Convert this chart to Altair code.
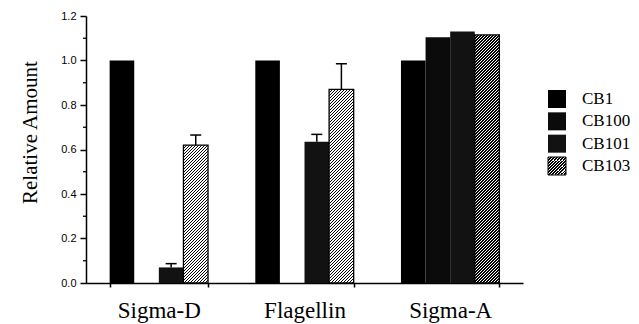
import altair as alt
import pandas as pd

# ---------------- data ----------------
groups = ["Sigma-D", "Flagellin", "Sigma-A"]
series = ["CB1", "CB100", "CB101", "CB103"]
cb1 = [1.0, 1.0, 1.0]
cb100 = [0.0, 0.0, 1.105]
cb101 = [0.07, 0.635, 1.13]
cb103 = [0.62, 0.87, 1.115]
cb101_err_top = [0.087, 0.668, None]
cb103_err_top = [0.665, 0.985, None]
y_major = [0.0, 0.2, 0.4, 0.6, 0.8, 1.0, 1.2]
y_minor = [0.1, 0.3, 0.5, 0.7, 0.9, 1.1]
series_colors = ["#000000", "#0b0b0b", "#121212", "#ffffff"]

# ---------------- layout ----------------
W, H = 437, 267
YMAX = 1.2
PI = 0.3245
step = W / len(groups)
bar_w = step * (1 - PI) / len(series)

rows = []
for gi, g in enumerate(groups):
    for s, vals in zip(series, [cb1, cb100, cb101, cb103]):
        rows.append({"group": g, "series": s, "value": vals[gi]})
df = pd.DataFrame(rows)

err_rows = []
for s, vals, tops in [("CB101", cb101, cb101_err_top), ("CB103", cb103, cb103_err_top)]:
    for gi, g in enumerate(groups):
        if tops[gi] is not None:
            err_rows.append({"group": g, "series": s, "value": vals[gi], "hi": tops[gi]})
err_df = pd.DataFrame(err_rows)

minor_df = pd.DataFrame({"value": y_minor})
legend_df = pd.DataFrame({"series": series})


def hatch(w, h, period=3.0, dark=0.45):
    L = w + h
    den = w * w + h * h
    x2 = w * L / den
    y2 = h * L / den
    stops = []
    k = 0
    while True:
        a = k * period / L
        if a >= 1:
            break
        b = min((k + dark) * period / L, 1.0)
        c = min((k + 1) * period / L, 1.0)
        stops += [(a, "#000000"), (b, "#000000"), (b, "#ffffff"), (c, "#ffffff")]
        k += 1
    return alt.LinearGradient(
        gradient="linear",
        stops=[alt.GradientStop(offset=o, color=col) for o, col in stops],
        x1=0, y1=0, x2=x2, y2=y2,
    )


yscale = alt.Scale(domain=[0, YMAX], nice=False, zero=True)
xscale = alt.Scale(domain=groups, paddingInner=PI, paddingOuter=PI / 2)
oscale = alt.Scale(domain=series, paddingInner=0, paddingOuter=0)

x_axis = alt.Axis(
    title=None, tickBand="extent", tickSize=4, tickWidth=1.5, tickColor="black",
    domainColor="black", domainWidth=1.5, labelFont="Liberation Serif",
    labelFontSize=23, labelColor="black", labelPadding=12, labelAngle=0,
)
y_axis = alt.Axis(
    values=y_major, format=".1f", tickSize=6, tickWidth=1.5, tickColor="black",
    domainColor="black", domainWidth=1.5, labelFont="Liberation Sans",
    labelFontSize=11, labelColor="black", labelPadding=4, grid=False,
    title="Relative Amount", titleFont="Liberation Serif", titleFontSize=21,
    titleFontWeight="normal", titleColor="black", titleX=-56, titleY=116,
    titleBaseline="middle",
)

X = alt.X("group:N", scale=xscale, axis=x_axis, title=None)
XOFF = alt.XOffset("series:N", scale=oscale)
Y = alt.Y("value:Q", scale=yscale, axis=y_axis, title="Relative Amount")
color_scale = alt.Scale(domain=series, range=series_colors)

bars = alt.Chart(df).transform_filter(alt.datum.series != "CB103").mark_bar().encode(
    x=X, xOffset=XOFF, y=Y,
    color=alt.Color("series:N", scale=color_scale, legend=None),
)

hatched = []
for gi, g in enumerate(groups):
    h = cb103[gi] * H / YMAX
    hatched.append(
        alt.Chart(df)
        .transform_filter((alt.datum.series == "CB103") & (alt.datum.group == g))
        .mark_bar(fill=hatch(bar_w, h), stroke="black", strokeWidth=1.3)
        .encode(x=X, xOffset=XOFF, y=Y)
    )

err_rule = alt.Chart(err_df).mark_rule(color="black", strokeWidth=1.5).encode(
    x=X, xOffset=XOFF, y=Y, y2="hi:Q",
)
err_cap = alt.Chart(err_df).mark_tick(color="black", size=11, thickness=1.5, opacity=1).encode(
    x=X, xOffset=XOFF,
    y=alt.Y("hi:Q", scale=yscale, axis=y_axis, title="Relative Amount"),
)
minor = alt.Chart(minor_df).mark_rule(color="black", strokeWidth=1.3).encode(
    x=alt.value(-3), x2=alt.value(0), y=Y,
)

main = alt.layer(bars, *hatched, err_rule, err_cap, minor)

lscale = alt.Scale(type="point", domain=series, range=[83, 150], padding=0)
LY = alt.Y("series:N", scale=lscale, axis=None)
leg_sq = alt.Chart(legend_df).transform_filter(alt.datum.series != "CB103").mark_square(
    size=324, opacity=1, filled=True
).encode(
    x=alt.value(471), y=LY,
    color=alt.Color("series:N", scale=color_scale, legend=None),
)
leg_hatch = alt.Chart(legend_df).transform_filter(alt.datum.series == "CB103").mark_square(
    size=324, opacity=1, filled=True, fill=hatch(18, 18), stroke="black", strokeWidth=1
).encode(x=alt.value(471), y=LY)
leg_text = alt.Chart(legend_df).mark_text(
    align="left", baseline="middle", font="Liberation Serif", fontSize=17, color="black"
).encode(x=alt.value(496), y=LY, text="series:N")
legend = alt.layer(leg_sq, leg_hatch, leg_text)

chart = (
    alt.layer(main, legend)
    .resolve_scale(y="independent")
    .properties(
        width=W, height=H,
        autosize=alt.AutoSizeParams(type="none"),
        padding={"left": 78, "top": 8, "right": 108, "bottom": 41},
        background="white",
    )
    .configure_view(stroke=None)
)

chart.save("out.html", embed_options={"renderer": "svg", "actions": False})
